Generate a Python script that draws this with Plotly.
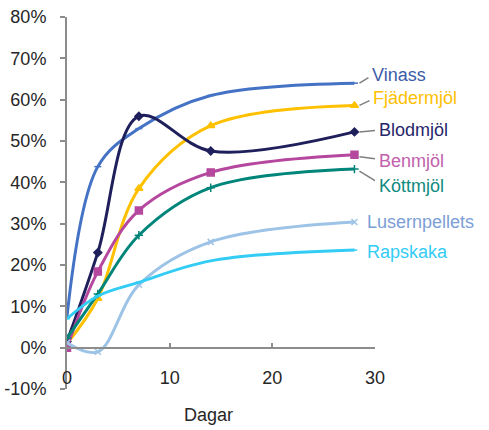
import plotly.graph_objects as go

days = [0, 3, 7, 14, 28]
names = ["Vinass", "Fjädermjöl", "Blodmjöl", "Benmjöl", "Köttmjöl", "Lusernpellets", "Rapskaka"]
vinass = [7.5, 43.8, 53.0, 61.0, 64.0]
fjader = [1.0, 11.9, 38.5, 53.7, 58.6]
blod = [1.5, 23.0, 56.0, 47.6, 52.2]
ben = [0.0, 18.4, 33.2, 42.4, 46.7]
kott = [2.3, 13.0, 27.2, 38.7, 43.2]
lusern = [1.2, -1.0, 15.2, 25.6, 30.4]
raps = [7.0, 12.5, 15.8, 21.0, 23.6]
series = [vinass, fjader, blod, ben, kott, lusern, raps]

line_colors = ["#4472C4", "#FFC000", "#1F1F5C", "#B5489E", "#00857A", "#9DC3E6", "#33CCF5"]
text_colors = ["#3B5CA8", "#FFC000", "#26266A", "#C160AC", "#0F8A80", "#7C9ED6", "#33CCF5"]
symbols = ["line-ew", "triangle-up", "diamond", "square", "cross-thin", "x-thin", "line-ew"]
msizes = [5, 7, 6, 7, 6, 6, 4]
# label offsets (pixels, positive = downward)
label_dy = [-8, -7, -2, 6, 17, 0, 2]
label_dx = [16, 17, 23, 23, 23, 11, 11]
has_leader = [True, True, True, True, True, False, False]

fig = go.Figure()
for s, nm, lc, sym, ms in zip(series, names, line_colors, symbols, msizes):
    fig.add_trace(go.Scatter(
        x=days, y=s, name=nm, mode="lines+markers",
        line=dict(color=lc, width=3, shape="spline", smoothing=1.0),
        marker=dict(symbol=sym, size=ms, color=lc, line=dict(color=lc, width=1.5)),
        showlegend=False,
    ))

shapes = []
annotations = []
for s, nm, tc, dy, dx, hl in zip(series, names, text_colors, label_dy, label_dx, has_leader):
    if hl:
        shapes.append(dict(type="line", xref="x", yref="y", xsizemode="pixel", ysizemode="pixel",
                           xanchor=days[-1], yanchor=s[-1], x0=5, y0=-2 if dy > 4 else 0,
                           x1=dx - 2, y1=-dy * 0.7, line=dict(color="#7F7F7F", width=1.5)))
    annotations.append(dict(x=days[-1], y=s[-1], xref="x", yref="y", text=nm, showarrow=False,
                            xanchor="left", yanchor="middle", xshift=dx, yshift=-dy,
                            font=dict(family="Liberation Sans, Arial", size=18, color=tc)))

annotations.append(dict(x=0.461, y=-0.07, xref="paper", yref="paper", text="Dagar", showarrow=False,
                        xanchor="center", yanchor="middle",
                        font=dict(family="Liberation Sans, Arial", size=18, color="#262626")))

fig.update_layout(
    width=489, height=430,
    margin=dict(l=67, r=114, t=17, b=41),
    paper_bgcolor="white", plot_bgcolor="white",
    font=dict(family="Liberation Sans, Arial", size=18, color="#262626"),
    shapes=shapes, annotations=annotations,
    xaxis=dict(range=[0, 30], tickvals=[0, 10, 20, 30], ticktext=["0", "10", "20", "30"],
               showgrid=False, zeroline=False, showline=True, linecolor="#8C8C8C", linewidth=2,
               ticks="inside", ticklen=4, tickcolor="#8C8C8C", tickwidth=1.5,
               anchor="free", position=10 / 90, ticklabelstandoff=14, automargin=False),
    yaxis=dict(range=[-10, 80], tickvals=list(range(-10, 81, 10)),
               ticktext=[f"{v}%" for v in range(-10, 81, 10)],
               showgrid=False, zeroline=False, showline=True, linecolor="#8C8C8C", linewidth=2,
               ticks="outside", ticklen=5, tickcolor="#8C8C8C", tickwidth=1.5,
               ticklabelstandoff=10, automargin=False),
)

fig.write_html("out.html")
